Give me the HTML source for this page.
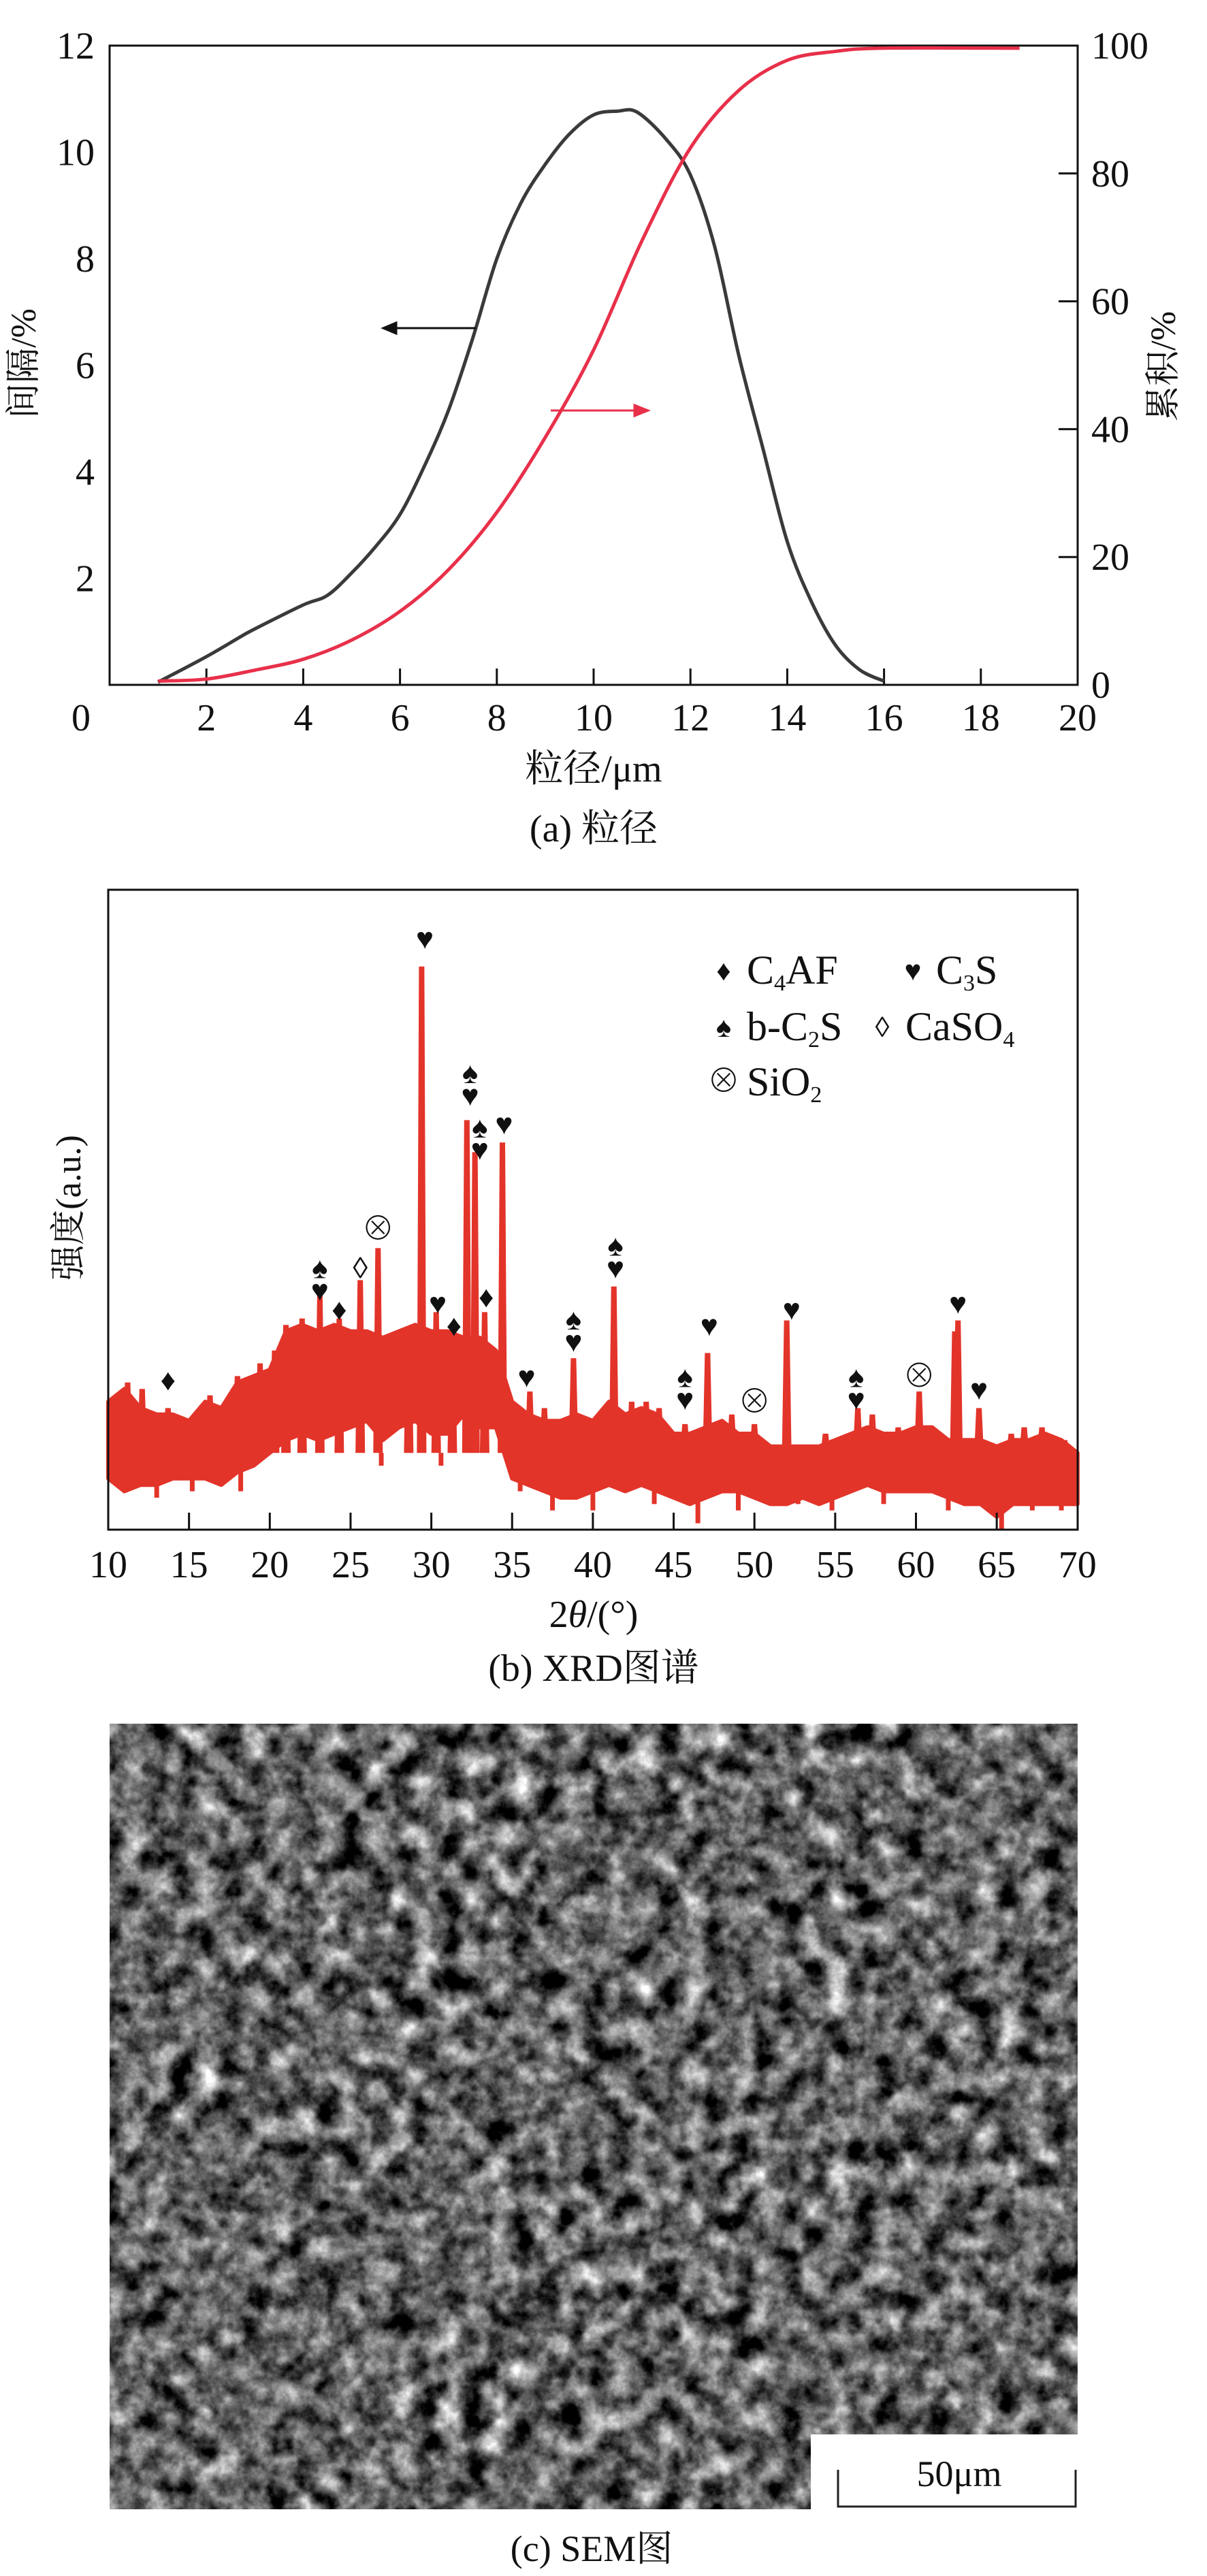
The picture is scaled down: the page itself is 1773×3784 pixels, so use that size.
<!DOCTYPE html>
<html><head><meta charset="utf-8"><style>
html,body{margin:0;padding:0;background:#fff;}
svg{display:block;}
text{font-family:"Liberation Serif","Noto Serif CJK SC",serif;fill:#111;}
</style></head><body>
<svg id="fig" width="1773" height="3784" viewBox="0 0 1773 3784" xmlns="http://www.w3.org/2000/svg">
<defs>
<filter id="sem" x="0" y="0" width="100%" height="100%" color-interpolation-filters="sRGB">
<feTurbulence type="fractalNoise" baseFrequency="0.028" numOctaves="5" seed="7" result="n1"/>
<feColorMatrix in="n1" type="matrix" values="1.1 1.1 0 0 -0.72  1.1 1.1 0 0 -0.72  1.1 1.1 0 0 -0.72  0 0 0 0 1"/>
</filter>
</defs>
<g id="chartA"></g>
<g id="chartB"></g>
<g id="semG">
<rect x="161" y="2532" width="1422" height="1154" fill="#5c5c5c"/>
<rect x="161" y="2532" width="1422" height="1154" filter="url(#sem)"/>
<rect x="1191" y="3576" width="392" height="110" fill="#fff"/>
<path d="M1231 3628 V3682 H1580 V3628" fill="none" stroke="#222" stroke-width="3"/>
<text x="1409" y="3652" font-size="54" text-anchor="middle">50μm</text>
<text x="869" y="3762" font-size="54" text-anchor="middle">(c) SEM图</text>
</g>
</svg>
<script>
// ---- Chart A data ----
const psdX = [1,2,2.7,3,4,4.5,5,5.5,6,6.5,7,7.5,8,8.5,9,9.5,10,10.5,10.9,11.5,12,12.5,13,13.5,14,14.5,15,15.5,16];
const psdInterval = [0.05,0.53,0.9,1.05,1.5,1.68,2.1,2.6,3.2,4.1,5.15,6.5,8.0,9.05,9.77,10.34,10.7,10.77,10.75,10.24,9.57,8.23,6.18,4.43,2.69,1.56,0.74,0.28,0.07];
const cumX = [1,2,3,4,5,6,7,8,9,10,11,12,13,14,15,16,18.8];
const cumValues = [0.6,0.9,2.3,4,7,11.5,18,27,38.7,52.4,69.5,84,93,97.7,99.1,99.6,99.6];
const xTicksA = [0,2,4,6,8,10,12,14,16,18,20];
const yLeftTicks = [2,4,6,8,10,12];
const yRightTicks = [0,20,40,60,80,100];

// ---- Chart B data ----
const xrdDeg = [10,11,12,13,14,15,16,17,18,19,20,21,22,23,24,25,26,27,28,29,30,31,32,33,34,35,36,37,38,39,40,41,42,43,44,45,46,47,48,49,50,51,52,53,54,55,56,57,58,59,60,61,62,63,64,65,66,67,68,69,70];
const xrdUpper = [20,22,19,18,18,17,20,19,23,24,25,31,32,31,32,31,31,30,31,32,31,31,30,30,28,20,18,17,17,18,17,20,18,19,18,15,15,16,17,15,15,13,13,13,13,14,15,16,15,15,16,16,14,14,14,13,14,14,15,14,12];
const xrdLower = [8,6,7,7,8,8,8,7,9,10,12,14,15,14,15,16,17,14,16,17,15,15,18,16,16,8,7,6,5,5,6,7,6,7,6,5,4,5,6,6,5,4,4,5,4,5,6,7,6,6,6,6,5,4,4,2,4,4,4,4,4];
const peakDeg = [11.2,12.1,13.7,16.3,18.0,19.4,20.3,21.0,22.0,23.1,24.3,25.6,26.7,28.6,29.4,30.3,31.3,32.2,32.7,33.3,34.4,36.1,37.0,38.8,41.3,42.4,43.3,44.1,45.7,47.1,48.6,50.0,52.0,54.4,56.4,57.3,58.9,60.2,62.4,62.6,63.9,65.9,66.7,67.8,69.2];
const peakInt = [23,22,19,21,24,26,28,32,33,36.6,33,39,44,30,88,34,30.6,64,59,34,60.5,21.6,19,26.8,38,20,20,19,16.5,27.6,18,16.5,32.7,15,19,18,16,21.6,31,32.7,19,15,16,16,14];
const dipDeg = [11.5,13.0,15.2,18.2,21.5,26.9,30.6,35.5,37.5,40.0,43.8,46.5,49.0,52.7,54.8,58.0,62.0,65.3,67.2,69.0];
const dipInt = [7,5,6,6,12,10,10,6,3,3,4,1,3,4,3,4,3,0,3,3];
const xTicksB = [10,15,20,25,30,35,40,45,50,55,60,65,70];
const markerDeg = [13.7,23.1,23.1,24.3,25.6,26.7,29.6,30.4,31.4,32.4,32.4,33.0,33.0,33.4,34.5,35.9,38.8,38.8,41.4,41.4,45.7,45.7,47.2,50.0,52.3,56.3,56.3,60.2,62.6,63.9];
const markerInt = [23.5,41,37.5,34.5,41,47,92.5,35.5,32,71.5,68,63,59.5,36.5,63.5,24,33,29.5,44.5,41,24,20.5,32,20,34.5,24,20.5,24,35.5,22];
const markerSym = ["♦","♠","♥","♦","◊","⊗","♥","♥","♦","♠","♥","♠","♥","♦","♥","♥","♠","♥","♠","♥","♠","♥","♥","⊗","♥","♠","♥","⊗","♥","♥"];

const NS="http://www.w3.org/2000/svg";
function mk(parent, tag, attrs, txt){const e=document.createElementNS(NS,tag);for(const k in attrs)e.setAttribute(k,attrs[k]);if(txt!==undefined)e.textContent=txt;parent.appendChild(e);return e;}
function smooth(pts){let d='M'+pts[0][0]+' '+pts[0][1];for(let i=0;i<pts.length-1;i++){const p0=pts[i-1]||pts[i],p1=pts[i],p2=pts[i+1],p3=pts[i+2]||p2;
d+=' C'+(p1[0]+(p2[0]-p0[0])/6)+' '+(p1[1]+(p2[1]-p0[1])/6)+' '+(p2[0]-(p3[0]-p1[0])/6)+' '+(p2[1]-(p3[1]-p1[1])/6)+' '+p2[0]+' '+p2[1];}return d;}

// ===== Chart A =====
const A=document.getElementById('chartA');
const ax=v=>161+v*71.1, ayl=v=>1006-v*78.25, ayr=v=>1006-v*9.39;
let el=mk(A,'rect',{x:161,y:67,width:1422,height:939,fill:'none',stroke:'#111','stroke-width':3});


xTicksA.forEach(t=>{
  if(t>0&&t<20){const l=mk(A,'line',{x1:ax(t),x2:ax(t),y1:1006,y2:982,stroke:'#111','stroke-width':3});
  
  }
  const tx=mk(A,'text',{x:t===0?119:ax(t),y:1073,'font-size':56,'text-anchor':'middle'},String(t));
  
  
});
yLeftTicks.forEach(t=>{
  const tx=mk(A,'text',{x:139,y:ayl(t)+19,'font-size':56,'text-anchor':'end'},String(t));
  
  
});
yRightTicks.forEach(t=>{
  if(t>0&&t<100){const l=mk(A,'line',{x1:1583,x2:1555,y1:ayr(t),y2:ayr(t),stroke:'#111','stroke-width':3});
  
  }
  const tx=mk(A,'text',{x:1603,y:ayr(t)+19,'font-size':56,'text-anchor':'start'},String(t));
  
  
});
el=mk(A,'path',{d:smooth(psdX.map((x,i)=>[ax(x),ayl(psdInterval[i])])),fill:'none',stroke:'#3a3a3a','stroke-width':5,'stroke-linejoin':'round'});


el=mk(A,'path',{d:smooth(cumX.map((x,i)=>[ax(x),ayr(cumValues[i])])),fill:'none',stroke:'#e8304a','stroke-width':5,'stroke-linejoin':'round'});


el=mk(A,'path',{d:'M699 482 H568 M582 474 L563 482 L582 490 Z',stroke:'#111','stroke-width':3,fill:'#111'});


el=mk(A,'path',{d:'M809 603 H945 M932 595 L952 603 L932 611 Z',stroke:'#e8304a','stroke-width':3,fill:'#e8304a'});


el=mk(A,'text',{x:0,y:0,'font-size':52,'text-anchor':'middle',transform:'translate(52,534) rotate(-90)'},'间隔/%');


el=mk(A,'text',{x:0,y:0,'font-size':52,'text-anchor':'middle',transform:'translate(1726,538) rotate(-90)'},'累积/%');


el=mk(A,'text',{x:872,y:1148,'font-size':56,'text-anchor':'middle'},'粒径/μm');


el=mk(A,'text',{x:872,y:1236,'font-size':56,'text-anchor':'middle'},'(a) 粒径');



// ===== Chart B =====
const B=document.getElementById('chartB');
const bx=d=>159+(d-10)*23.73, by=I=>2247-I*9.4;
const band=xrdDeg.map((d,i)=>bx(d)+','+by(xrdUpper[i])).concat(xrdDeg.slice().reverse().map((d,i)=>bx(d)+','+by(xrdLower[xrdDeg.length-1-i])));
el=mk(B,'polygon',{points:band.join(' '),fill:'#e3342a',stroke:'#e3342a','stroke-width':6,'stroke-linejoin':'round'});


peakDeg.forEach((d,i)=>{
  const p=mk(B,'polygon',{points:(bx(d)-7)+','+by(12)+' '+(bx(d)-4)+','+by(peakInt[i])+' '+(bx(d)+4)+','+by(peakInt[i])+' '+(bx(d)+7)+','+by(12),fill:'#e3342a'});
  
  
});
dipDeg.forEach((d,i)=>{
  const p=mk(B,'line',{x1:bx(d),x2:bx(d),y1:by(12),y2:by(dipInt[i]),stroke:'#e3342a','stroke-width':7});
  
  
});
el=mk(B,'rect',{x:159,y:1307,width:1424,height:940,fill:'none',stroke:'#111','stroke-width':3});


xTicksB.forEach(t=>{
  if(t>10&&t<70){const l=mk(B,'line',{x1:bx(t),x2:bx(t),y1:2247,y2:2222,stroke:'#111','stroke-width':3});
  
  }
  const tx=mk(B,'text',{x:bx(t),y:2317,'font-size':56,'text-anchor':'middle'},String(t));
  
  
});
markerDeg.forEach((d,i)=>{
  const s=markerSym[i];
  const m=mk(B,'text',{x:bx(d),y:by(markerInt[i])+16,'font-size':s==='⊗'?48:44,'text-anchor':'middle',fill:'#111','font-family':'DejaVu Sans, sans-serif'},s);
  
  
});
const leg=[["♦",1063,1425,"C<tspan font-size='34' dy='10'>4</tspan><tspan dy='-10'>AF</tspan>",1097],
["♥",1341,1425,"C<tspan font-size='34' dy='10'>3</tspan><tspan dy='-10'>S</tspan>",1375],
["♠",1063,1508,"b-C<tspan font-size='34' dy='10'>2</tspan><tspan dy='-10'>S</tspan>",1097],
["◊",1296,1508,"CaSO<tspan font-size='34' dy='10'>4</tspan>",1330],
["⊗",1063,1589,"SiO<tspan font-size='34' dy='10'>2</tspan>",1097]];
leg.forEach(r=>{
  const g=mk(B,'g',{});
  
  
  mk(g,'text',{x:r[1],y:r[2]+15,'font-size':r[0]==='⊗'?48:42,'text-anchor':'middle','font-family':'DejaVu Sans, sans-serif'},r[0]);
  const t=mk(g,'text',{x:r[4],y:r[2]+20,'font-size':60});
  t.innerHTML=r[3];
});
el=mk(B,'text',{x:0,y:0,'font-size':52,'text-anchor':'middle',transform:'translate(118,1774) rotate(-90)'},'强度(a.u.)');


el=mk(B,'text',{x:872,y:2390,'font-size':56,'text-anchor':'middle'});
el.innerHTML='2<tspan font-style="italic">θ</tspan>/(°)';


el=mk(B,'text',{x:872,y:2469,'font-size':56,'text-anchor':'middle'},'(b) XRD图谱');


</script>
</body></html>
